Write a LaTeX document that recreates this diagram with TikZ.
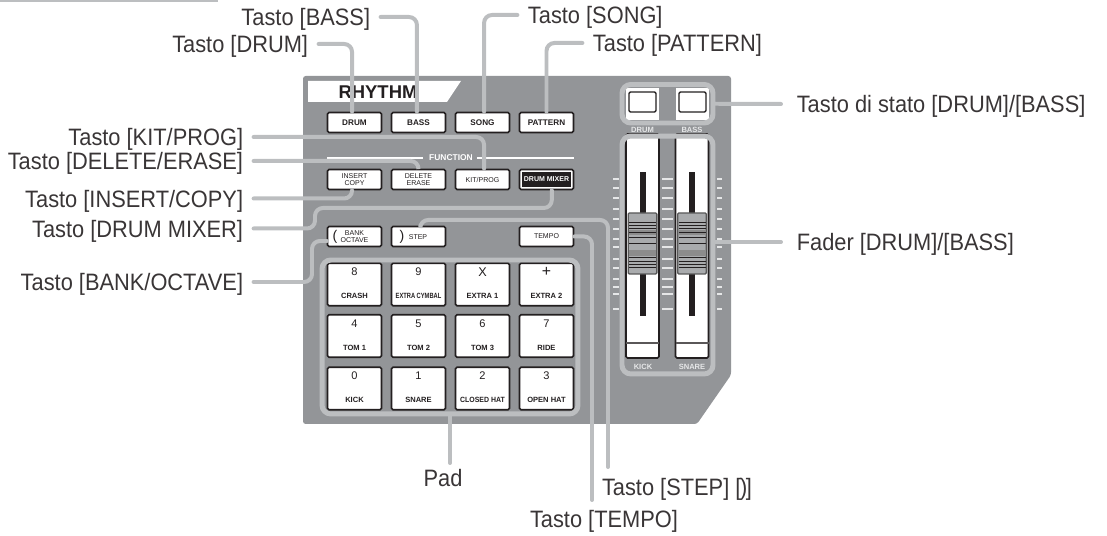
\documentclass[tikz,border=0pt]{standalone}
\usepackage{fontspec}
\setmainfont{Liberation Sans}
\newfontfamily\calloutfont[FakeStretch=.92]{Liberation Sans}
\usepackage{graphicx}
\usepackage{xcolor}
\usepackage{tikz}
\usetikzlibrary{calc,positioning}

\definecolor{panelgray}{HTML}{939598}
\definecolor{leadgray}{HTML}{BCBEC0}
\definecolor{inkblack}{HTML}{231F20}
\definecolor{tickwhite}{HTML}{E6E7E8}

\tikzset{
  leader/.style={draw=leadgray,line width=2.27pt,line cap=round,rounded corners=4.5pt},
  groupbox/.style={draw=leadgray,line width=2.83pt,rounded corners=5pt,inner sep=0pt,minimum width=1.82cm},
  btnkey/.style={draw=inkblack,fill=white,line width=.9pt,rounded corners=.8pt,inner sep=0pt,
    minimum width=1.08cm,minimum height=.40cm,text=inkblack,align=center},
  padkey/.style={btnkey,minimum height=.85cm},
  boldfont/.style={font=\fontsize{4.65}{5}\selectfont\bfseries},
  thinfont/.style={font=\fontsize{4}{4}\selectfont},
  padnum/.style={inner sep=0pt,text=inkblack,font=\fontsize{6.3}{7}\selectfont},
  padtxt/.style={inner sep=0pt,text=inkblack,font=\fontsize{4.3}{5}\selectfont\bfseries},
  whitetxt/.style={inner sep=0pt,text=tickwhite,font=\fontsize{4.3}{5}\selectfont\bfseries},
  callout/.style={inner sep=0pt,outer sep=6pt,text=inkblack!90,text height=9.7pt,text depth=0pt,
    font=\calloutfont\fontsize{13.5}{15}\selectfont},
}

\begin{document}
\begin{tikzpicture}[x=0.02cm,y=-0.02cm]
\useasboundingbox (0,0) rectangle (1107,536);

% Bar at the top left
\fill[leadgray] (0,0) rectangle (218,2.4);

% ---- Panel ----
\fill[panelgray,rounded corners=1.5pt] (303,76) -- (731,76) -- (731,375) -- (697,424) -- (303,424) -- cycle;
\fill[white] (308,81) -- (461,81) -- (447,102) -- (308,102) -- cycle;
\node[inner sep=0pt,text=inkblack,font=\fontsize{10.5}{12}\selectfont\bfseries] (txtRhythm) at (378,92) {RHYTHM};

% ---- FUNCTION ----
\node[inner sep=0pt,text=white,font=\fontsize{4.8}{5}\selectfont\bfseries] (txtFunction) at (451,158) {FUNCTION};
\draw[white,line width=.6pt] (327,158) -- (423,158);
\draw[white,line width=.6pt] (477,158) -- (574,158);

% ---- Keys ----
\foreach \x/\y/\id/\txt in {354.5/122.5/Drum/DRUM,418.5/122.5/Bass/BASS,482.5/122.5/Song/SONG,546.5/122.5/Pattern/PATTERN}{
    \node[btnkey,boldfont] (btn\id) at (\x,\y) {\txt};
}
\foreach \x/\y/\id/\txt in {354.5/179.5/Insert/{INSERT\\COPY},418.5/179.5/Delete/{DELETE\\ERASE},482.5/179.5/Kit/{KIT/PROG},546.5/236.5/Tempo/TEMPO}{
    \node[btnkey,thinfont] (btn\id) at (\x,\y) {\txt};
}
\node[btnkey] (btnMixer) at (546.5,179.5) {};
\node[fill=inkblack,inner sep=0pt,minimum width=.98cm,minimum height=.31cm,text=white,
  font=\fontsize{4}{4}\selectfont\bfseries] (txtMixer) at (btnMixer) {DRUM MIXER};

\node[btnkey] (btnBank) at (354.5,236.5) {};
\node[btnkey] (btnStep) at (418.5,236.5) {};
\node[inner sep=0pt,text=inkblack,align=center,thinfont] (txtBank) at (354.5,236.5) {BANK\\OCTAVE};
\node[inner sep=0pt,text=inkblack,thinfont] (txtStep) at (418,237) {STEP};
\node[inner sep=0pt,text=inkblack,font=\fontsize{8}{8}\selectfont] (parenBank) at (335,236.5) {(};
\node[inner sep=0pt,text=inkblack,font=\fontsize{8}{8}\selectfont] (parenStep) at (402,236.5) {)};

% ---- Pads ----
\foreach \x/\y/\id/\num/\txt in {
    354.5/284.5/a/8/CRASH, 418.5/284.5/b/9/{\scalebox{.76}[1]{EXTRA CYMBAL}}, 482.5/284.5/c/{\fontsize{7.2}{8}\selectfont X}/EXTRA 1, 546.5/284.5/d/{\fontsize{9}{9}\selectfont +}/EXTRA 2,
    354.5/336/e/4/TOM 1, 418.5/336/f/5/TOM 2, 482.5/336/g/6/TOM 3, 546.5/336/h/7/RIDE,
    354.5/388.5/i/0/KICK, 418.5/388.5/j/1/SNARE, 482.5/388.5/k/2/{\scalebox{.92}[1]{CLOSED HAT}}, 546.5/388.5/l/3/OPEN HAT}{
    \node[padkey] (pad\id) at (\x,\y) {};
    \node[padnum] (num\id) at ([yshift=7.1pt]pad\id.center) {\num};
    \node[padtxt] (txt\id) at ([yshift=-6.5pt]pad\id.center) {\txt};
}

% ---- Status keys ----
\foreach \x/\id in {642.5/Drum,692.5/Bass}{
    \fill[white] (\x-16.5,88) rectangle (\x+16.5,120);
    \draw[inkblack,line width=.8pt,rounded corners=.8pt] (\x-13.5,92) rectangle (\x+13.5,112);
}
\node[whitetxt] (capDrum) at (642.5,129.5) {DRUM};
\node[whitetxt] (capBass) at (692,129.5) {BASS};

% ---- Faders ----
\foreach \x in {642.5,692}{
    \draw[inkblack,fill=white,line width=.9pt,rounded corners=.8pt] (\x-16.5,134) rectangle (\x+16.5,358);
    \draw[inkblack!75,line width=.7pt] (\x-16.5,343) -- (\x+16.5,343);
    \fill[inkblack] (\x-3,172) rectangle (\x+3,316);
    % knob
    \draw[black!65,fill=leadgray!90!black,line width=.8pt,rounded corners=.6pt] (\x-14.3,213) rectangle (\x+14.3,274);
    \fill[black!45] (\x-13.5,230) rectangle (\x+13.5,235);
    \fill[black!45] (\x-13.5,250) rectangle (\x+13.5,256);
    \foreach \s in {222,225,228,232,237,243,257,261,264,267}{
        \draw[inkblack,line width=.45pt] (\x-13.5,\s) -- (\x+13.5,\s);
    }
}
\foreach \s in {179,188,198,209,219,229,239,247,259,268,279,287,294,309}{
    \draw[tickwhite,line width=.6pt] (613,\s) -- (619,\s);
    \draw[tickwhite,line width=.6pt] (662,\s) -- (673,\s);
    \draw[tickwhite,line width=.6pt] (717,\s) -- (722,\s);
}
\node[whitetxt] (capKick) at (643,367) {KICK};
\node[whitetxt] (capSnare) at (692,367) {SNARE};

% ---- Group frames ----
\node[groupbox,minimum height=.77cm] (groupStatus) at (667.5,103.75) {};
\node[groupbox,minimum height=4.76cm] (groupFader) at (667.5,255) {};
\node[groupbox,minimum width=5.12cm,minimum height=3.08cm] (groupPad) at (450,337) {};

% ---- Callouts ----
\node[callout,anchor=east] (lblBass) at (380.6,17) {Tasto [BASS]};
\node[callout,anchor=east] (lblDrum) at (318.6,44) {Tasto [DRUM]};
\node[callout,anchor=west] (lblSong) at (517.4,15) {Tasto [SONG]};
\node[callout,anchor=west] (lblPattern) at (582.4,43) {Tasto [PATTERN]};
\node[callout,anchor=east] (lblKit) at (253.6,137) {Tasto [KIT/PROG]};
\node[callout,anchor=east] (lblDelete) at (253.6,161) {Tasto [DELETE/ERASE]};
\node[callout,anchor=east] (lblInsert) at (253.6,198.5) {Tasto [INSERT/COPY]};
\node[callout,anchor=east] (lblMixer) at (253.6,228.5) {Tasto [DRUM MIXER]};
\node[callout,anchor=east] (lblBank) at (253.6,282) {Tasto [BANK/OCTAVE]};
\node[callout,anchor=west,outer sep=9pt] (lblStatus) at (781,104) {Tasto di stato [DRUM]/[BASS]};
\node[callout,anchor=west,outer sep=9pt] (lblFader) at (781,242) {Fader [DRUM]/[BASS]};
\node[callout,outer sep=0pt] (lblPad) at (443,478) {Pad};
\node[callout,anchor=west,outer sep=0pt] (lblStep) at (602,487) {Tasto [STEP] [\kern-.06em)\kern-.06em]};
\node[callout,anchor=west,outer sep=0pt] (lblTempo) at (530,519) {Tasto [TEMPO]};

% ---- Leaders ----
\coordinate (turnMixer) at (315,208);
\coordinate (turnBank) at (312,241);
\coordinate (turnStep) at (608,220);
\coordinate (endStep) at (608,467);
\coordinate (endTempo) at (592,500);

\draw[leader] (lblDrum.east) -| ([xshift=-1.4pt]btnDrum.north);
\draw[leader] (lblBass.east) -| ([xshift=-.9pt]btnBass.north);
\draw[leader] (lblSong.west) -| ([xshift=.9pt]btnSong.north);
\draw[leader] (lblPattern.west) -| (btnPattern.north);
\draw[leader] (lblKit.east) -| ([xshift=.9pt]btnKit.north);
\draw[leader] (lblDelete.east) -| (btnDelete.north);
\draw[leader] (lblInsert.east) -| ([xshift=-1.4pt]btnInsert.south);
\draw[leader] (lblMixer.east) -| (turnMixer) -| ([xshift=3pt]btnMixer.south);
\draw[leader] (lblBank.east) -| (turnBank) -- (btnBank.west |- turnBank);
\draw[leader] ([xshift=1pt]btnStep.north) |- (turnStep) -- (endStep);
\draw[leader] (btnTempo.east) -| (endTempo);
\draw[leader] (groupPad.south) -- (groupPad.south |- 0,463);
\draw[leader] (groupStatus.east) -- (lblStatus.west);
\draw[leader] (lblFader.west) -- (lblFader.west -| groupFader.east);

\end{tikzpicture}
\end{document}
